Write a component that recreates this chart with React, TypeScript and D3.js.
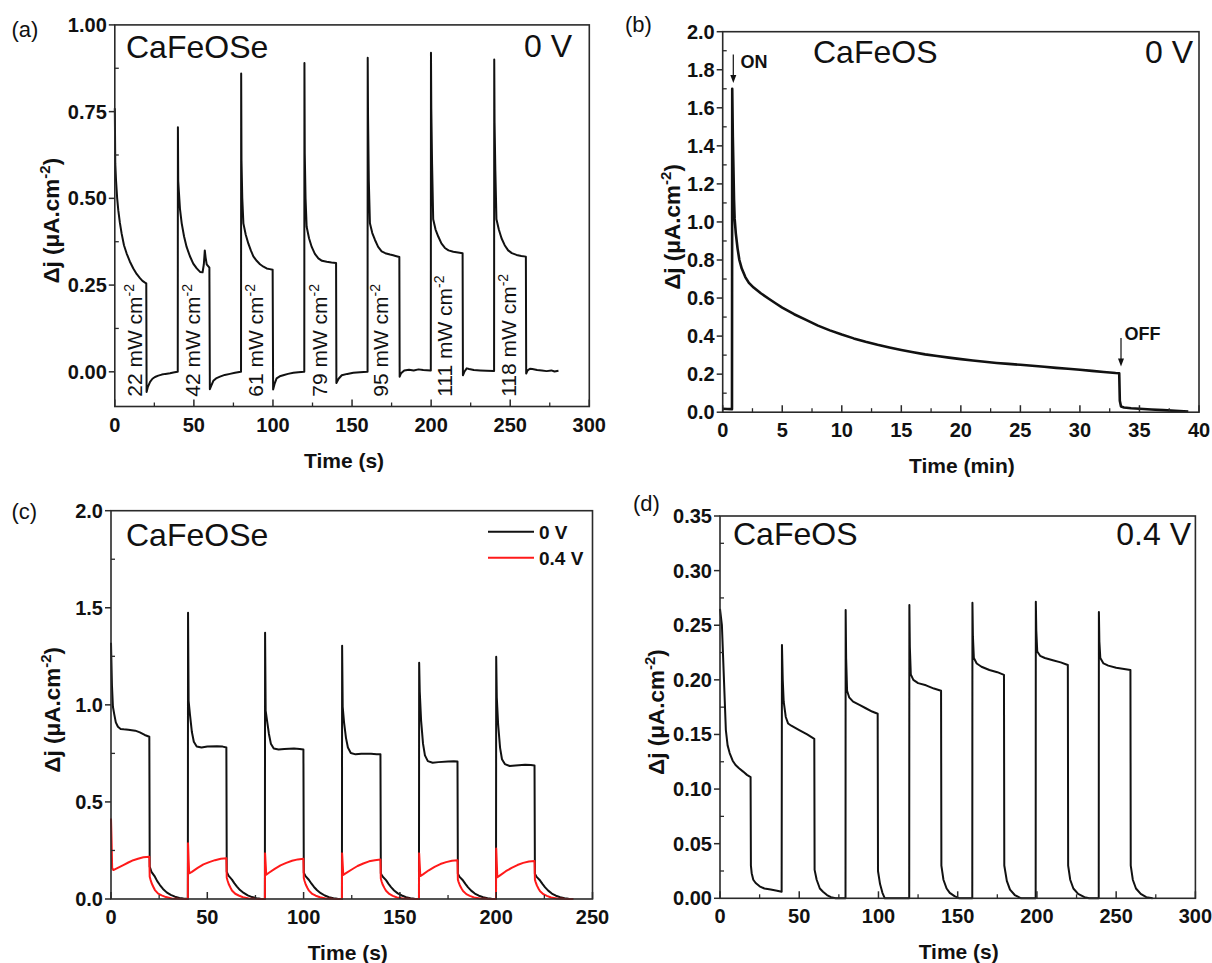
import React from "react";
import * as d3 from "d3";

type Pt = [number, number];

// ---- panel (a): CaFeOSe, 0 V, different light powers ----
const timeTicksA = [0, 50, 100, 150, 200, 250, 300];
const timeMinorA = [25, 75, 125, 175, 225, 275];
const currentTicksA = [0, 0.25, 0.5, 0.75, 1.0];
const currentMinorA = [0.125, 0.375, 0.625, 0.875];
const powerLabels = ["22", "42", "61", "79", "95", "111", "118"];
const powerLabelTimes = [17, 54, 94, 134, 173, 213, 253.5];
const seriesA: Pt[] = [
  [0, 0.76], [0.3, 0.6], [0.8, 0.55], [1.5, 0.5], [2.2, 0.466], [3.2, 0.43], [4.3, 0.399], [5.8, 0.365],
  [7.5, 0.341], [9.5, 0.318], [11.7, 0.298], [13.8, 0.282], [15.9, 0.27], [17.5, 0.262], [19.1, 0.257], [19.9, 0.255],
  [20.1, -0.058], [20.8, -0.045], [22.3, -0.029], [23.8, -0.02], [25.4, -0.015], [27.5, -0.011], [29.7, -0.008],
  [32, -0.006], [34.9, -0.004], [37, -0.002], [39.6, 0],
  [39.8, 0], [39.9, 0.705], [40.1, 0.55], [40.5, 0.52], [41.2, 0.47], [42.3, 0.428], [43.8, 0.39], [45.4, 0.36],
  [47.5, 0.333], [49.6, 0.312], [51.8, 0.298], [53.9, 0.288], [55.5, 0.287], [56.3, 0.31], [56.9, 0.35], [57.4, 0.33],
  [58.1, 0.31], [59.8, 0.3], [60.1, -0.05], [61, -0.04], [62.3, -0.026], [64, -0.019], [66.5, -0.014], [69.5, -0.009],
  [72.8, -0.006], [76, -0.003], [79.6, 0],
  [79.8, 0], [79.9, 0.86], [80.1, 0.61], [80.6, 0.5], [81.3, 0.428], [82.8, 0.395], [84.4, 0.37], [86, 0.35],
  [87.6, 0.333], [89.7, 0.32], [91.8, 0.31], [94, 0.303], [96, 0.298], [98, 0.296], [99.8, 0.294], [100.1, -0.051],
  [101, -0.035], [102.3, -0.019], [104.3, -0.013], [106.5, -0.01], [109.5, -0.006], [112.9, -0.003], [116, -0.001], [119.6, 0],
  [119.8, 0], [119.9, 0.89], [120.1, 0.63], [120.6, 0.5], [121.3, 0.418], [122.8, 0.385], [124.5, 0.36], [126.5, 0.34],
  [128.7, 0.327], [131, 0.32], [134, 0.317], [137, 0.315], [139.9, 0.314], [140.1, -0.032], [141.5, -0.02], [143.5, -0.01],
  [147, -0.006], [150.8, -0.003], [155, -0.001], [159.6, 0],
  [159.8, 0], [159.9, 0.905], [160.1, 0.74], [160.6, 0.55], [161.3, 0.428], [162.8, 0.4], [164.5, 0.38], [166.5, 0.36],
  [168.7, 0.347], [171, 0.342], [174, 0.338], [176, 0.336], [177.5, 0.334], [179.9, 0.331], [180.1, -0.014], [181, -0.004],
  [183, 0.004], [186, 0.006], [189, 0.004], [192, 0.007], [195, 0.005], [199.6, 0.004],
  [199.8, 0.004], [199.9, 0.92], [200.1, 0.76], [200.6, 0.6], [201.3, 0.44], [202.8, 0.41], [204.5, 0.39], [206.5, 0.37],
  [208.7, 0.357], [211, 0.35], [214, 0.346], [217, 0.344], [219.9, 0.342], [220.1, -0.01], [221, 0], [222.5, 0.01],
  [224, 0.008], [227, 0.005], [231, 0.004], [235, 0.003], [239.6, 0.002],
  [239.8, 0.002], [239.9, 0.9], [240.1, 0.72], [240.6, 0.58], [241.3, 0.44], [242.8, 0.41], [244.5, 0.385], [246.5, 0.365],
  [248.7, 0.35], [251, 0.342], [254, 0.337], [257, 0.334], [259.9, 0.332], [260.1, -0.005], [261, 0.004], [262.5, 0.009],
  [264, 0.008], [267, 0.005], [270, 0.004], [273, 0.002], [276, 0.004], [278, 0.001], [280.5, 0.003],
];

// ---- panel (b): CaFeOS, 0 V, long exposure ----
const timeTicksB = [0, 5, 10, 15, 20, 25, 30, 35, 40];
const timeMinorB = [2.5, 7.5, 12.5, 17.5, 22.5, 27.5, 32.5, 37.5];
const currentTicksB = [0, 0.2, 0.4, 0.6, 0.8, 1.0, 1.2, 1.4, 1.6, 1.8, 2.0];
const currentMinorB = [0.1, 0.3, 0.5, 0.7, 0.9, 1.1, 1.3, 1.5, 1.7, 1.9];
const seriesB: Pt[] = [
  [0, 0.018], [0.4, 0.017], [0.78, 0.016], [0.8, 1.7], [0.85, 1.45], [0.9, 1.29], [0.95, 1.12], [1.0, 1.02],
  [1.1, 0.94], [1.25, 0.86], [1.4, 0.8], [1.6, 0.755], [1.9, 0.71], [2.2, 0.68], [2.6, 0.655], [3.2, 0.625],
  [3.9, 0.595], [4.5, 0.57], [5, 0.55], [6, 0.515], [7, 0.485], [8, 0.455], [9, 0.43], [10, 0.408], [11, 0.388],
  [12, 0.37], [13, 0.354], [14, 0.34], [15, 0.327], [16, 0.315], [17, 0.304], [18, 0.295], [19, 0.287], [20, 0.279],
  [21, 0.272], [22, 0.265], [23, 0.259], [24, 0.254], [25, 0.249], [26, 0.244], [27, 0.239], [28, 0.233], [29, 0.228],
  [30, 0.223], [31, 0.217], [32, 0.211], [33, 0.206], [33.3, 0.205], [33.35, 0.06], [33.45, 0.03], [33.7, 0.025],
  [34.3, 0.021], [35, 0.018], [36, 0.014], [37, 0.011], [38, 0.007], [39.1, 0.004],
];

// ---- panel (c): CaFeOSe, 0 V vs 0.4 V ----
const timeTicksC = [0, 50, 100, 150, 200, 250];
const timeMinorC = [25, 75, 125, 175, 225];
const currentTicksC = [0, 0.5, 1.0, 1.5, 2.0];
const currentMinorC = [0.25, 0.75, 1.25, 1.75];
const seriesC0V: Pt[] = [
  [0, 1.32], [0.5, 1.1], [1, 0.99], [1.6, 0.956], [2.5, 0.91], [3.6, 0.887], [5, 0.876], [6.6, 0.874], [9, 0.872],
  [12.6, 0.867], [15, 0.858], [17.5, 0.845], [19.9, 0.836], [20.1, 0.167], [21, 0.14], [22.8, 0.115], [24, 0.092],
  [25.4, 0.072], [27, 0.052], [28.9, 0.034], [31, 0.021], [33.2, 0.012], [35.5, 0.005], [37.6, 0.002], [39.9, 0],
  [40, 1.475], [40.3, 1.02], [41, 0.95], [42, 0.86], [43, 0.81], [44.5, 0.785], [47, 0.78], [50, 0.785], [55, 0.787],
  [58, 0.785], [59.9, 0.78], [60.1, 0.14], [61, 0.12], [62.8, 0.1], [64, 0.082], [65.4, 0.064], [67, 0.046],
  [68.9, 0.031], [71, 0.019], [73.2, 0.01], [75.5, 0.004], [77.6, 0.001], [79.9, 0],
  [80, 1.372], [80.3, 0.97], [81, 0.92], [82, 0.85], [83, 0.8], [84.5, 0.775], [87, 0.77], [90, 0.773], [95, 0.775],
  [98, 0.773], [99.9, 0.77], [100.1, 0.135], [101, 0.118], [102.8, 0.098], [104, 0.08], [105.4, 0.062], [107, 0.045],
  [108.9, 0.03], [111, 0.018], [113.2, 0.009], [115.5, 0.004], [117.6, 0.001], [119.9, 0],
  [120, 1.305], [120.3, 0.99], [121, 0.91], [122, 0.83], [123, 0.78], [124.5, 0.752], [127, 0.745], [130, 0.748],
  [135, 0.748], [138, 0.746], [139.9, 0.745], [140.1, 0.132], [141, 0.116], [142.8, 0.097], [144, 0.079], [145.4, 0.061],
  [147, 0.044], [148.9, 0.029], [151, 0.018], [153.2, 0.009], [155.5, 0.004], [157.6, 0.001], [159.9, 0],
  [160, 1.217], [160.3, 1.07], [161, 0.92], [162, 0.8], [163, 0.74], [164.5, 0.71], [167, 0.702], [170, 0.705],
  [175, 0.708], [178, 0.71], [179.9, 0.708], [180.1, 0.13], [181, 0.114], [182.8, 0.095], [184, 0.078], [185.4, 0.06],
  [187, 0.043], [188.9, 0.028], [191, 0.017], [193.2, 0.009], [195.5, 0.004], [197.6, 0.001], [199.9, 0],
  [200, 1.248], [200.3, 1.04], [201, 0.9], [202, 0.78], [203, 0.72], [204.5, 0.695], [207, 0.685], [210, 0.688],
  [215, 0.692], [218, 0.69], [219.9, 0.688], [220.1, 0.13], [221, 0.114], [222.8, 0.095], [224, 0.078], [225.4, 0.06],
  [227, 0.043], [228.9, 0.028], [231, 0.017], [233.2, 0.009], [235.5, 0.004], [237.6, 0.001], [240, 0],
];
const seriesC04V: Pt[] = [
  [0, 0.415], [0.3, 0.3], [0.6, 0.16], [1.2, 0.149], [3, 0.158], [6.4, 0.175], [9, 0.188], [11.6, 0.2], [14, 0.207],
  [16.8, 0.215], [19.9, 0.218], [20.1, 0.115], [20.5, 0.1], [21.1, 0.081], [22, 0.062], [22.8, 0.046], [24.5, 0.028],
  [26.3, 0.019], [28.5, 0.01], [31.5, 0.003], [35, 0.001], [39.9, 0],
  [40, 0.287], [40.3, 0.2], [40.6, 0.132], [42, 0.14], [45, 0.16], [48, 0.178], [51, 0.19], [54, 0.2], [57, 0.207],
  [59.9, 0.21], [60.1, 0.11], [60.5, 0.095], [61.1, 0.077], [62, 0.059], [62.8, 0.044], [64.5, 0.027], [66.3, 0.018],
  [68.5, 0.009], [71.5, 0.003], [75, 0.001], [79.9, 0],
  [80, 0.235], [80.3, 0.18], [80.6, 0.125], [82, 0.135], [85, 0.155], [88, 0.173], [91, 0.186], [94, 0.197], [97, 0.204],
  [99.9, 0.207], [100.1, 0.108], [100.5, 0.093], [101.1, 0.075], [102, 0.057], [102.8, 0.043], [104.5, 0.026],
  [106.3, 0.017], [108.5, 0.009], [111.5, 0.003], [115, 0.001], [119.9, 0],
  [120, 0.235], [120.6, 0.124], [122, 0.133], [125, 0.152], [128, 0.17], [131, 0.183], [134, 0.194], [137, 0.2],
  [139.9, 0.204], [140.1, 0.105], [140.5, 0.09], [141.1, 0.073], [142, 0.056], [142.8, 0.042], [144.5, 0.026],
  [146.3, 0.016], [148.5, 0.008], [151.5, 0.003], [155, 0.001], [159.9, 0],
  [160, 0.235], [160.6, 0.118], [162, 0.127], [165, 0.148], [168, 0.165], [171, 0.18], [174, 0.19], [177, 0.197],
  [179.9, 0.2], [180.1, 0.1], [180.5, 0.087], [181.1, 0.071], [182, 0.054], [182.8, 0.041], [184.5, 0.025],
  [186.3, 0.016], [188.5, 0.008], [191.5, 0.003], [195, 0.001], [199.9, 0],
  [200, 0.26], [200.6, 0.112], [202, 0.122], [205, 0.143], [208, 0.16], [211, 0.175], [214, 0.186], [217, 0.193],
  [219.9, 0.196], [220.1, 0.1], [220.5, 0.087], [221.1, 0.07], [222, 0.053], [222.8, 0.04], [224.5, 0.025],
  [226.3, 0.016], [228.5, 0.008], [231.5, 0.003], [235, 0.001], [240, 0],
];
const legendC = ["0 V", "0.4 V"];

// ---- panel (d): CaFeOS, 0.4 V ----
const timeTicksD = [0, 50, 100, 150, 200, 250, 300];
const timeMinorD = [25, 75, 125, 175, 225, 275];
const currentTicksD = [0, 0.05, 0.1, 0.15, 0.2, 0.25, 0.3, 0.35];
const currentMinorD = [0.025, 0.075, 0.125, 0.175, 0.225, 0.275, 0.325];
const seriesD: Pt[] = [
  [0, 0.265], [1.2, 0.25], [2.5, 0.2], [3.7, 0.154], [4.8, 0.14], [6.1, 0.133], [8, 0.126], [9.8, 0.122], [12, 0.119],
  [14.6, 0.116], [17, 0.113], [19.3, 0.111], [19.5, 0.03], [20, 0.023], [21, 0.017], [22.5, 0.014], [25, 0.011],
  [28, 0.009], [32, 0.008], [36, 0.007], [38.9, 0.006],
  [39.1, 0.232], [39.6, 0.2], [40.2, 0.18], [41.5, 0.166], [43, 0.16], [45, 0.158], [50, 0.154], [55, 0.15],
  [59.5, 0.146], [59.7, 0.026], [61, 0.017], [63, 0.009], [65, 0.006], [67.5, 0.003], [70, 0.001], [73, 0], [79.2, 0],
  [79.3, 0.264], [79.6, 0.22], [80.2, 0.19], [81.5, 0.184], [84, 0.18], [88, 0.177], [92, 0.174], [96, 0.171],
  [99.5, 0.169], [99.7, 0.025], [101, 0.013], [102.5, 0.005], [104, 0], [119.4, 0],
  [119.5, 0.2685], [119.8, 0.23], [120.4, 0.205], [122, 0.2], [125, 0.197], [130, 0.195], [135, 0.192], [139.5, 0.19],
  [139.7, 0.03], [141, 0.017], [143, 0.009], [145, 0.005], [148, 0.002], [151, 0], [159.2, 0],
  [159.3, 0.2706], [159.6, 0.24], [160.2, 0.22], [162, 0.215], [165, 0.212], [170, 0.209], [175, 0.207], [179.2, 0.2045],
  [179.4, 0.03], [181, 0.016], [183, 0.008], [186, 0.003], [190, 0], [199.2, 0],
  [199.3, 0.2716], [199.6, 0.245], [200.2, 0.226], [202, 0.222], [205, 0.22], [210, 0.218], [215, 0.216], [219.5, 0.2136],
  [219.7, 0.03], [221, 0.017], [223, 0.009], [226, 0.004], [230, 0.001], [233, 0], [239, 0],
  [239.1, 0.262], [239.4, 0.235], [240, 0.22], [242, 0.215], [245, 0.213], [250, 0.211], [255, 0.21], [259, 0.209],
  [259.2, 0.03], [260.5, 0.017], [262.5, 0.009], [265.5, 0.004], [269, 0.001], [273, 0],
];

const FONT = "'Liberation Sans', Arial, Helvetica, sans-serif";

interface Series {
  data: Pt[];
  color: string;
  width: number;
}

interface PanelProps {
  box: [number, number, number, number]; // left, top, right, bottom
  xDomain: [number, number];
  yDomain: [number, number];
  xTicks: number[];
  xMinor: number[];
  yTicks: number[];
  yMinor: number[];
  yFmt: (v: number) => string;
  xTitle: string;
  xTitleShift: number;
  yTitleGap: number;
  tag: string;
  tagPos: [number, number];
  series: Series[];
  extra?: (x: d3.ScaleLinear<number, number>, y: d3.ScaleLinear<number, number>) => React.ReactNode;
}

function Panel(p: PanelProps) {
  const [l, t, r, b] = p.box;
  const x = d3.scaleLinear().domain(p.xDomain).range([l, r]);
  const y = d3.scaleLinear().domain(p.yDomain).range([b, t]);
  const line = d3
    .line<Pt>()
    .x((d) => x(d[0]))
    .y((d) => y(d[1]));
  const cx = (l + r) / 2;
  const cy = (t + b) / 2;

  return (
    <g>
      <text x={p.tagPos[0]} y={p.tagPos[1]} fontSize={22} fontFamily={FONT} fill="#111">
        {p.tag}
      </text>

      {p.series.map((s, i) => (
        <path
          key={i}
          d={line(s.data) || ""}
          fill="none"
          stroke={s.color}
          strokeWidth={s.width}
          strokeLinejoin="round"
        />
      ))}

      {/* frame */}
      <rect x={l} y={t} width={r - l} height={b - t} fill="none" stroke="#2a2a2a" strokeWidth={1.6} />

      {/* x ticks, pointing in */}
      {p.xTicks.map((v) => (
        <g key={"xt" + v}>
          <line x1={x(v)} x2={x(v)} y1={b} y2={b - 7} stroke="#2a2a2a" strokeWidth={1.5} />
          <text
            x={x(v)}
            y={b + 25}
            textAnchor="middle"
            fontSize={20}
            fontWeight="bold"
            fontFamily={FONT}
            fill="#111"
          >
            {String(v)}
          </text>
        </g>
      ))}
      {p.xMinor.map((v) => (
        <line key={"xm" + v} x1={x(v)} x2={x(v)} y1={b} y2={b - 4} stroke="#2a2a2a" strokeWidth={1.3} />
      ))}

      {/* y ticks, major out, minor in */}
      {p.yTicks.map((v) => (
        <g key={"yt" + v}>
          <line x1={l - 6} x2={l} y1={y(v)} y2={y(v)} stroke="#2a2a2a" strokeWidth={1.5} />
          <text
            x={l - 8}
            y={y(v) + 7}
            textAnchor="end"
            fontSize={20}
            fontWeight="bold"
            fontFamily={FONT}
            fill="#111"
          >
            {p.yFmt(v)}
          </text>
        </g>
      ))}
      {p.yMinor.map((v) => (
        <line key={"ym" + v} x1={l} x2={l + 4} y1={y(v)} y2={y(v)} stroke="#2a2a2a" strokeWidth={1.3} />
      ))}

      <text
        x={cx + p.xTitleShift}
        y={b + 61}
        textAnchor="middle"
        fontSize={21}
        fontWeight="bold"
        fontFamily={FONT}
        fill="#111"
      >
        {p.xTitle}
      </text>

      <text
        transform={`translate(${l - p.yTitleGap + 8},${cy + 5}) rotate(-90)`}
        textAnchor="middle"
        fontSize={22.5}
        fontWeight="bold"
        fontFamily={FONT}
        fill="#111"
      >
        Δj (μA.cm
        <tspan dy={-9} fontSize={15}>
          -2
        </tspan>
        <tspan dy={9}>)</tspan>
      </text>

      {p.extra && p.extra(x, y)}
    </g>
  );
}

function Arrow({ x, y1, y2 }: { x: number; y1: number; y2: number }) {
  return (
    <g>
      <line x1={x} x2={x} y1={y1} y2={y2 - 6} stroke="#111" strokeWidth={1.2} />
      <path d={`M${x - 3},${y2 - 8} L${x + 3},${y2 - 8} L${x},${y2} Z`} fill="#111" />
    </g>
  );
}

export default function App() {
  const f2 = d3.format(".2f");
  const f1 = d3.format(".1f");

  return (
    <svg
      width={1212}
      height={963}
      style={{ position: "absolute", left: 0, top: 0, background: "#fff" }}
    >
      <rect width={1212} height={963} fill="#fff" />

      <Panel
        box={[114.8, 24.9, 589.3, 406.5]}
        xDomain={[0, 300]}
        yDomain={[-0.1, 1.0]}
        xTicks={timeTicksA}
        xMinor={timeMinorA}
        yTicks={currentTicksA}
        yMinor={currentMinorA}
        yFmt={f2}
        xTitle="Time (s)"
        xTitleShift={-8}
        yTitleGap={64}
        tag="(a)"
        tagPos={[11.5, 37]}
        series={[{ data: seriesA, color: "#111", width: 2 }]}
        extra={(x, y) => (
          <g fontFamily={FONT} fill="#111">
            <text x={126} y={58} fontSize={32}>CaFeOSe</text>
            <text x={572} y={57} fontSize={32} textAnchor="end">0 V</text>
            {powerLabels.map((lab, i) => (
              <text
                key={lab}
                transform={`translate(${x(powerLabelTimes[i])},${y(-0.072)}) rotate(-90)`}
                fontSize={21}
              >
                {lab} mW cm
                <tspan dy={-8} fontSize={14}>-2</tspan>
              </text>
            ))}
          </g>
        )}
      />

      <Panel
        box={[722.7, 31.7, 1199, 412.2]}
        xDomain={[0, 40]}
        yDomain={[0, 2.0]}
        xTicks={timeTicksB}
        xMinor={timeMinorB}
        yTicks={currentTicksB}
        yMinor={currentMinorB}
        yFmt={f1}
        xTitle="Time (min)"
        xTitleShift={1}
        yTitleGap={51}
        tag="(b)"
        tagPos={[625, 32]}
        series={[{ data: seriesB, color: "#111", width: 2.6 }]}
        extra={(x, y) => (
          <g fontFamily={FONT} fill="#111">
            <text x={813} y={63} fontSize={32}>CaFeOS</text>
            <text x={1193} y={63} fontSize={32} textAnchor="end">0 V</text>
            <Arrow x={x(0.89)} y1={y(1.88)} y2={y(1.73)} />
            <text x={x(1.5)} y={y(1.81)} fontSize={18} fontWeight="bold">ON</text>
            <Arrow x={x(33.45)} y1={y(0.39)} y2={y(0.24)} />
            <text x={x(33.75)} y={y(0.38)} fontSize={18} fontWeight="bold">OFF</text>
          </g>
        )}
      />

      <Panel
        box={[111, 510.7, 592.5, 899]}
        xDomain={[0, 250]}
        yDomain={[0, 2.0]}
        xTicks={timeTicksC}
        xMinor={timeMinorC}
        yTicks={currentTicksC}
        yMinor={currentMinorC}
        yFmt={f1}
        xTitle="Time (s)"
        xTitleShift={-4}
        yTitleGap={59}
        tag="(c)"
        tagPos={[11.5, 519]}
        series={[
          { data: seriesC0V, color: "#111", width: 2 },
          { data: seriesC04V, color: "#ff1a1a", width: 2 },
        ]}
        extra={() => (
          <g fontFamily={FONT} fill="#111">
            <text x={126} y={546} fontSize={32}>CaFeOSe</text>
            {legendC.map((lab, i) => (
              <g key={lab}>
                <line
                  x1={488}
                  x2={534}
                  y1={531.7 + i * 26}
                  y2={531.7 + i * 26}
                  stroke={i === 0 ? "#111" : "#ff1a1a"}
                  strokeWidth={2}
                />
                <text x={539} y={538.5 + i * 26} fontSize={19} fontWeight="bold">
                  {lab}
                </text>
              </g>
            ))}
          </g>
        )}
      />

      <Panel
        box={[720, 516, 1195.4, 898.3]}
        xDomain={[0, 300]}
        yDomain={[0, 0.35]}
        xTicks={timeTicksD}
        xMinor={timeMinorD}
        yTicks={currentTicksD}
        yMinor={currentMinorD}
        yFmt={f2}
        xTitle="Time (s)"
        xTitleShift={1}
        yTitleGap={64}
        tag="(d)"
        tagPos={[633, 511]}
        series={[{ data: seriesD, color: "#111", width: 2 }]}
        extra={() => (
          <g fontFamily={FONT} fill="#111">
            <text x={733} y={545} fontSize={32}>CaFeOS</text>
            <text x={1191} y={545} fontSize={32} textAnchor="end">0.4 V</text>
          </g>
        )}
      />
    </svg>
  );
}
